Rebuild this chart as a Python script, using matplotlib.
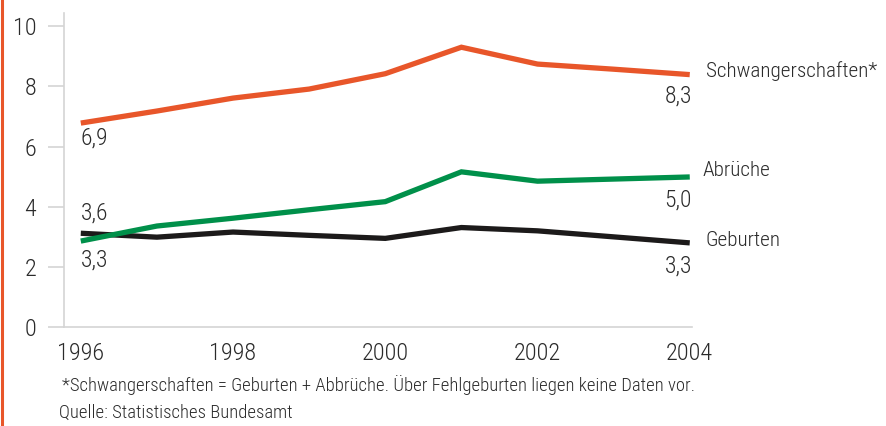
import matplotlib
matplotlib.use("Agg")
import matplotlib.pyplot as plt

plt.rcParams['font.family'] = ['Roboto Condensed', 'DejaVu Sans']
plt.rcParams['font.weight'] = 300
plt.rcParams['font.stretch'] = 'condensed'

years = [1996, 1997, 1998, 1999, 2000, 2001, 2002, 2003, 2004]
schwanger = [6.78, 7.18, 7.61, 7.91, 8.42, 9.30, 8.74, 8.57, 8.39]
abbrueche = [2.86, 3.36, 3.62, 3.90, 4.17, 5.16, 4.85, 4.92, 4.99]
geburten = [3.12, 2.99, 3.16, 3.05, 2.95, 3.31, 3.20, 3.00, 2.80]

series_names = ["Schwangerschaften*", "Abrüche", "Geburten"]
start_labels = ["6,9", "3,6", "3,3"]
end_labels = ["8,3", "5,0", "3,3"]
xticks = [1996, 1998, 2000, 2002, 2004]
yticks = [0, 2, 4, 6, 8, 10]

ORANGE = "#E8562A"
GREEN = "#00904A"
BLACK = "#1C1A1A"
TXT = "#2B2B2B"
GRID = "#D4D4D4"

fig = plt.figure(figsize=(8.87, 4.26), dpi=100)
ax = fig.add_axes([0.0722, 0.232, 0.708, 0.737])

for vals, col in [(geburten, BLACK), (abbrueche, GREEN), (schwanger, ORANGE)]:
    ax.plot(years, vals, color=col, lw=3.8, solid_capstyle='butt', solid_joinstyle='miter')

ax.set_xlim(1995.78, 2004.03)
ax.set_ylim(0, 10.43)
ax.set_xticks(xticks)
ax.set_xticklabels([str(x) for x in xticks])
ax.set_yticks(yticks)
ax.tick_params(axis='x', length=0, pad=11, labelsize=17.5, labelcolor=TXT)
ax.tick_params(axis='y', length=11.5, width=1.2, color=GRID, pad=8.5, labelsize=17.5, labelcolor=TXT)
for s in ['top', 'right']:
    ax.spines[s].set_visible(False)
for s in ['left', 'bottom']:
    ax.spines[s].set_color(GRID)
    ax.spines[s].set_linewidth(1.2)

fs = 17
fsn = 15.2
# start labels
ax.text(1996, schwanger[0] - 0.50, start_labels[0], ha='left', va='center', fontsize=fs, color=TXT)
ax.text(1996, geburten[0] + 0.67, start_labels[1], ha='left', va='center', fontsize=fs, color=TXT)
ax.text(1996, abbrueche[0] - 0.63, start_labels[2], ha='left', va='center', fontsize=fs, color=TXT)
# end labels
ax.text(2004.03, schwanger[-1] - 0.72, end_labels[0], ha='right', va='center', fontsize=fs, color=TXT)
ax.text(2004.03, abbrueche[-1] - 0.77, end_labels[1], ha='right', va='center', fontsize=fs, color=TXT)
ax.text(2004.03, geburten[-1] - 0.77, end_labels[2], ha='right', va='center', fontsize=fs, color=TXT)
# series names
ax.text(2004.21, schwanger[-1] + 0.11, series_names[0], ha='left', va='center', fontsize=fsn, color=TXT, clip_on=False)
ax.text(2004.17, abbrueche[-1] + 0.23, series_names[1], ha='left', va='center', fontsize=fsn, color=TXT, clip_on=False)
ax.text(2004.21, geburten[-1] + 0.09, series_names[2], ha='left', va='center', fontsize=fsn, color=TXT, clip_on=False)

fig.text(62 / 887, 1 - 385 / 426, "*Schwangerschaften = Geburten + Abbrüche. Über Fehlgeburten liegen keine Daten vor.",
         ha='left', va='center', fontsize=13.4, color=TXT)
fig.text(59 / 887, 1 - 413 / 426, "Quelle: Statistisches Bundesamt",
         ha='left', va='center', fontsize=13.4, color=TXT)

# orange left border
fig.add_artist(plt.Line2D([0.0017, 0.0017], [0, 1], transform=fig.transFigure, color=ORANGE, lw=2.2))

fig.savefig("out.png", dpi=100)
